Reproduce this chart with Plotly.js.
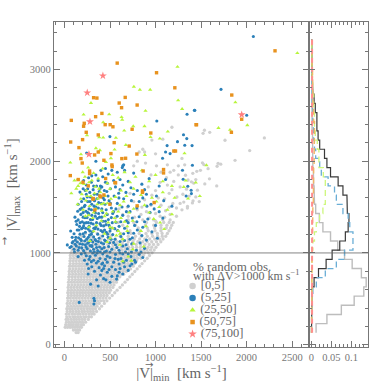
<!DOCTYPE html>
<html><head><meta charset="utf-8">
<script src="https://cdn.plot.ly/plotly-3.0.1.min.js"></script>
<style>html,body{margin:0;padding:0;background:#fff}</style></head>
<body><div id="c" style="width:389px;height:389px"></div>
<script>
const grayRowY=[132,160,190,218,246,276,304,334,362,392,420,450,478,508,536,566,594,624,652,682,710,740,768,798,826,856,884,914,942,972,1002,1032,1062,1092,1122,1152,1182,1212,1242,1272,1302,1332,1360];
const grayRowX=[
[128,150],
[98,122,146,166],
[8,34,62,88,114,140,164,186],
[14,46,70,97,128,152,184,208],
[22,54,84,112,142,170,198,232],
[18,40,74,104,132,163,194,222,262],
[26,58,92,120,150,178,212,240,272,296],
[20,48,82,110,144,172,204,234,268,298,326],
[30,64,94,128,158,192,220,254,286,316,352],
[26,56,86,118,150,182,212,246,276,308,340,384],
[36,70,102,134,166,196,230,260,294,326,358,408],
[30,60,94,124,158,188,222,252,286,318,350,382,438],
[38,72,106,136,170,202,234,268,300,332,364,398,430,466],
[34,64,98,130,162,194,226,258,292,324,356,388,422,456,496],
[42,76,110,142,174,206,240,272,304,336,370,402,434,468,524],
[36,68,100,134,166,198,230,264,296,328,360,394,426,458,492,552],
[44,78,112,146,178,210,244,276,308,342,374,406,438,472,506,578],
[40,72,104,138,170,204,236,268,300,334,366,398,432,464,498,532,610],
[46,82,116,150,182,214,248,280,314,346,378,410,444,476,510,544,636],
[44,76,108,142,174,208,240,272,306,338,370,404,436,468,502,536,570,665],
[50,86,120,154,186,218,252,284,318,350,382,414,448,480,514,548,582,692],
[48,80,112,146,178,212,244,276,310,342,374,408,440,472,506,540,574,608,718],
[54,90,124,158,190,222,256,288,322,354,386,418,452,484,518,552,586,620,650,745],
[52,84,116,150,182,216,248,280,314,346,378,412,444,476,510,544,578,612,646,680,772],
[58,94,128,162,194,226,260,292,326,358,390,422,456,488,522,556,590,624,658,692,726,798],
[56,88,120,154,186,220,252,284,318,350,382,416,448,480,514,548,582,616,650,684,718,755,826],
[62,98,132,166,198,230,264,296,330,362,394,426,460,492,526,560,594,628,662,696,730,770,852],
[60,92,124,158,190,224,256,288,322,354,386,420,452,484,518,552,586,620,654,688,722,756,792,880],
[66,102,136,170,202,234,268,300,334,366,398,430,464,496,530,564,598,632,666,700,734,768,802,840,908],
[64,96,128,162,194,228,260,292,326,358,390,424,456,488,522,556,590,624,658,692,726,760,794,830,868,934],
[74,106,140,174,206,240,272,306,340,372,404,436,470,502,536,570,604,638,672,706,740,774,810,846,884,920,962],
[84,120,158,196,238,276,318,354,398,432,474,516,552,596,634,672,712,752,790,832,870,906,945,985],
[96,136,182,226,268,312,356,402,446,488,532,578,622,664,706,748,792,834,876,918,958,1005],
[108,158,210,262,318,370,424,476,530,584,636,690,740,788,836,884,932,978,1028],
[132,190,250,318,386,452,512,576,640,700,752,806,860,908,958,1010,1058],
[160,240,320,402,482,560,632,700,766,826,882,936,990,1042,1082],
[190,290,400,510,612,700,780,846,910,968,1022,1074,1112],
[230,360,490,620,730,820,895,960,1020,1072,1130],
[280,430,580,720,830,920,995,1060,1148],
[340,520,680,810,910,990,1060,1118,1165],
[450,640,780,890,980,1060,1125,1178],
[590,760,900,1010,1090,1150,1195],
[700,860,980,1080,1160]];
const grayUpper=[[1537,2337],[1522,2304],[1595,2315],[1763,2228],[2195,2254],[2034,2116],[1873,2010],[1515,1982],[1530,1963],[1687,1977],[1716,1967],[1676,1945],[1577,1919],[1493,1901],[1453,1890],[1409,1868],[1329,1847],[1592,1808],[1541,1752],[1672,1731],[1442,1800],[1394,1775],[1420,1760],[1357,1795],[1460,1684],[1340,1695],[1442,1611],[1412,1568],[1405,1545],[1351,1506],[1300,1640],[1270,1720],[1235,1610],[1200,1780],[1180,1690],[1150,1650],[1130,1740],[1100,1590],[1270,1540],[1230,1490],[1190,1540],[1290,1470],[1150,1500],[1110,1460],[1060,1520],[1030,1600],[1000,1680],[960,1630],[920,1720],[880,1580],[850,1500],[900,1450],[950,1520],[1000,1430],[1050,1400],[1100,1390],[1160,1420],[1230,1400],[800,1470],[760,1560],[720,1650],[690,1500],[640,1420],[700,1400],[770,1390],[840,1420],[930,1380],[1000,1350],[600,1480],[560,1380],[1310,1555],[1120,1820],[1060,1880],[1010,1950],[950,1850],[880,2100],[820,2100],[800,2000],[760,1950],[890,1980],[1000,2080],[1200,1900],[1130,1960],[1250,1950],[1080,2240],[960,2230],[860,2130],[1180,2370],[1160,1880],[1320,1960],[1290,2030],[1370,1620],[1480,1560],[1250,1850],[1350,1490],[1050,1770]];
const bluePts=[[162,461],[323,505],[323,443],[330,480],[287,660],[353,707],[455,707],[572,715],[520,745],[260,770],[395,760],[600,790],[640,770],[330,800],[470,790],[700,810],[265,830],[300,850],[380,840],[430,830],[520,850],[560,820],[660,850],[720,860],[250,880],[350,890],[410,880],[470,900],[600,880],[540,900],[220,920],[270,930],[320,920],[390,940],[450,930],[500,950],[620,940],[680,920],[770,920],[780,900],[150,960],[185,990],[240,970],[280,960],[340,975],[420,990],[470,965],[560,985],[640,990],[730,960],[820,985],[110,1010],
[31,1088],[60,1060],[85,1110],[105,1040],[130,1075],[150,1030],[170,1100],[190,1055],[210,1025],[230,1090],[250,1045],[270,1120],[285,1020],[300,1070],[320,1040],[345,1095],[365,1025],[385,1065],[410,1045],[430,1100],[460,1020],[485,1070],[520,1040],[560,1090],[600,1030],[640,1075],[690,1045],[740,1100],[790,1030],[880,1050],
[68,1240],[85,1170],[105,1210],[120,1140],[140,1250],[155,1165],[170,1205],[185,1135],[200,1275],[215,1180],[230,1225],[245,1150],[260,1260],[275,1195],[290,1140],[305,1230],[320,1175],[335,1265],[350,1130],[365,1205],[380,1160],[400,1245],[420,1185],[440,1140],[460,1225],[480,1170],[505,1270],[530,1200],[555,1150],[585,1245],[620,1180],[660,1135],[700,1220],[745,1165],[800,1250],[850,1190],[900,1140],[960,1230],[1020,1160],
[115,1390],[135,1310],[150,1360],[165,1290],[180,1420],[195,1340],[210,1295],[225,1385],[240,1330],[255,1440],[270,1290],[285,1365],[300,1410],[315,1315],[330,1460],[345,1285],[360,1375],[375,1430],[390,1320],[410,1390],[430,1295],[450,1345],[470,1420],[490,1300],[515,1385],[540,1450],[565,1335],[600,1290],[640,1410],[680,1350],[720,1450],[770,1300],[820,1395],[880,1340],[940,1440],[1000,1300],[1080,1380],
[170,1663],[150,1530],[190,1490],[210,1590],[225,1520],[240,1640],[255,1560],[270,1480],[285,1610],[300,1530],[315,1690],[330,1570],[345,1500],[360,1640],[375,1550],[390,1700],[410,1480],[425,1600],[445,1530],[465,1670],[490,1570],[515,1490],[545,1620],[580,1540],[610,1690],[650,1590],[700,1510],[760,1640],[820,1560],[880,1690],[950,1530],[1010,1620],[1090,1570],[1180,1510],
[210,1790],[240,1740],[265,1820],[295,1770],[320,1730],[345,1850],[370,1790],[395,1730],[420,1830],[450,1770],[480,1860],[520,1900],[540,1790],[580,1880],[610,1800],[640,1950],[650,1960],[660,1900],[635,1930],[700,1780],[760,1870],[850,1750],[930,1810],[1040,1730],[1110,1800],[345,2000],[400,1900],[450,1920],
[243,2089],[499,2268],[1077,2032],[1110,2100],[1127,2170],[1160,2083],[1014,2438],[1241,2213],[1431,2554],[1346,2511],[2001,2500],[1307,2289],[1343,2246],[1321,2174],[1401,2170],[1405,1956],[1296,1901],[1303,1804],[1391,1684],[1354,1727],[1394,1647],[1336,1621],[2074,3359],[1719,2783],[1427,2554]];
const blueDense=[[75,1070],[95,1125],[118,1095],[125,1170],[142,1120],[160,1060],[178,1150],[198,1095],[205,1210],[222,1130],[238,1065],[255,1105],[262,1170],[282,1080],[295,1205],[310,1120],[328,1010],[338,1145],[352,1060],[372,1125],[392,1010],[405,1110],[418,1230],[435,1060],[452,1130],[472,1205],[495,1110],[512,1150],[540,1115],[575,1060],[610,1125],[650,1210],[675,1090],[720,1150],[760,1215],[830,1110],[128,1345],[158,1250],[172,1330],[188,1265],[205,1390],[218,1325],[232,1270],[248,1385],[262,1330],[278,1240],[292,1325],[308,1365],[322,1270],[338,1400],[352,1330],[368,1260],[385,1390],[402,1300],[422,1345],[440,1250],[458,1310],[482,1365],[500,1240],[525,1330],[552,1265],[578,1400],[618,1340],[660,1270],[700,1330],[745,1380],[795,1340],[860,1280],[915,1370],[145,1455],[172,1475],[188,1560],[205,1440],[218,1505],[236,1455],[250,1610],[266,1430],[280,1560],[296,1470],[312,1590],[326,1510],[340,1435],[356,1590],[372,1490],[388,1620],[404,1540],[420,1440],[438,1580],[458,1470],[478,1620],[505,1540],[530,1430],[565,1480],[598,1600],[632,1500],[680,1450],[735,1570],[795,1490],[860,1600],[905,1510],[985,1480],[1040,1450],[205,1700],[228,1680],[255,1700],[278,1660],[300,1840],[328,1640],[352,1730],[382,1670],[410,1720],[438,1680],[472,1760],[505,1700],[560,1720],[595,1650],[640,1740],[675,1660],[730,1710],[800,1680],[900,1640],[300,1080],[420,890],[360,1000],[440,1010],[500,1010],[590,930],[670,1010],[735,1010],[840,1010],[430,720],[500,680],[370,640],[610,830],[740,880],[860,950],[295,905],[370,910],[440,860],[490,820],[580,750],[650,900],[700,990],[225,1000],[310,1000],[555,940],[410,810],[610,1000]];
const greenPts=[[1241,3029],[762,2812],[828,2779],[941,2779],[291,2635],[1248,2663],[1292,2569],[890,2548],[210,2507],[491,2510],[627,2481],[634,2452],[425,2423],[879,2381],[755,2381],[656,2333],[1135,2322],[247,2282],[425,2257],[565,2254],[382,2260],[945,2263],[1047,2246],[674,2177],[345,2141],[550,2126],[181,2075],[389,2119],[883,2068],[510,2032],[64,1985],[455,1991],[2557,3178],[1877,2641],[1691,2362],[1818,2341],[2008,2392],[1318,2086],[1559,1956],[1442,1767],[1332,1789],[1486,1619],[1357,1593],[1310,1719],
[200,1880],[260,1930],[145,1800],[110,1790],[175,1760],[225,1830],[270,1770],[320,1870],[370,1810],[420,1920],[470,1760],[530,1850],[590,1820],[660,1880],[720,1770],[780,1830],[850,1900],[930,1780],[1000,1850],[1080,1780],[1180,1730],
[75,1650],[130,1700],[190,1640],[240,1680],[290,1620],[340,1720],[395,1660],[445,1620],[500,1700],[560,1610],[620,1680],[680,1620],[760,1700],[840,1630],[960,1600],[1080,1660],[1210,1600],
[145,1530],[205,1470],[235,1570],[275,1510],[320,1440],[360,1530],[410,1460],[470,1540],[530,1450],[610,1520],[710,1440],[800,1510],[1130,1470],[1180,1420],[1010,1560],
[230,1400],[310,1380],[350,1300],[405,1350],[440,1400],[500,1280],[560,1340],[590,1240],[620,1380],[690,1290],[750,1350],[840,1240],[895,1290],[980,1370],[1050,1330],[1095,1260],[270,1280],[320,1235],[440,1210],[500,1160],[570,1190],[640,1150],[690,1240],[280,1130],[760,1100],[750,1040],[870,1070],[700,960],[640,910],[735,915],[610,1090],[470,1120],
[180,1590],[150,1730],[215,1750],[250,1620],[300,1790],[330,1650],[365,1590],[380,1700],[430,1540],[460,1430],[510,1590],[550,1380],[590,1450],[650,1560],[760,1480],[880,1520],[930,1440],[1040,1500],[265,1410],[345,1480],[405,1530],[480,1330],[530,1270],[610,1210],[660,1340]];
const orangePts=[[579,3069],[1011,2964],[1212,2800],[320,2692],[356,2688],[667,2695],[601,2634],[627,2583],[798,2612],[411,2521],[342,2485],[75,2445],[217,2413],[210,2381],[447,2398],[502,2398],[532,2375],[743,2348],[948,2307],[239,2315],[371,2286],[199,2235],[68,2209],[546,2202],[159,2148],[711,2165],[371,2100],[331,2068],[510,2083],[181,2028],[795,2078],[630,2028],[671,2032],[433,2010],[195,1980],[521,1959],[524,1941],[64,1843],[276,1893],[276,1865],[1088,1909],[1088,1872],[864,1893],[1201,2111],[1219,2111],[1450,2398],[452,1811],[151,1800],[203,1771],[857,1676],[857,1660],[397,1611],[313,1586],[561,1764],[389,1621],[433,1632],[985,1549],[499,1531],[798,1513],[334,1469],[316,1593],[2312,3203],[1837,2721],[1946,2457],[1445,2398],[1833,2315],[261,1731],[554,1767]];
const redPts=[[422,2931],[250,2746],[280,2431],[269,2075],[1946,2507]];
const histEdges=[130,230,330,430,530,630,730,830,930,1030,1130,1230,1330,1430,1530,1630,1730,1830,1930,2030,2130,2230,2330,2430,2530,2630,2730,2830,2930,3030,3130,3230,3330];
const histGray=[.012,.039,.075,.107,.131,.137,.125,.102,.083,.066,.048,.029,.02,.011,.008,.007,.006,.005,.004,.004,.003,.003,.002,.002,.002,.002,.001,.001,.001,.001,.001,.001];
const histBlue=[.0005,.0005,.001,.001,.004,.0125,.035,.0625,.083,.104,.104,.096,.092,.079,.0625,.058,.042,.025,.021,.011,.008,.006,.005,.004,.003,.002,.002,.001,.001,.001,.001,.001];
const histGreen=[.0005,.0005,.0005,.001,.001,.001,.002,.002,.002,.004,.008,.0125,.021,.029,.035,.035,.035,.03,.019,.019,.015,.01,.008,.008,.006,.006,.004,.003,.002,.002,.001,.001];
const histOrange=[.0005,.0005,.0005,.0005,.001,.001,.001,.001,.001,.002,.003,.003,.004,.004,.005,.005,.006,.006,.007,.007,.008,.008,.008,.006,.005,.004,.004,.003,.003,.002,.002,.001];
const histRed=[.002,.002,.002,.002,.002,.002,.002,.002,.002,.002,.002,.002,.002,.002,.002,.002,.002,.002,.002,.002,.002,.002,.002,.002,.002,.002,.002,.002,.002,.002,.002,.002];
const histBlack=[.0005,.0005,.001,.001,.002,.007,.018,.037,.052,.071,.085,.092,.094,.09,.089,.079,.067,.048,.039,.033,.021,.017,.014,.014,.01,.007,.004,.0025,.002,.002,.001,.001];
const legendLabels=["[0,5]","(5,25]","(25,50]","(50,75]","(75,100]"];
const colors={gray:"#d0d0d0",blue:"#2b80b9",green:"#b8f53c",orange:"#e8921e",red:"#ff8080"};
const font="Liberation Serif";
const axc="#777";
const gx=[],gy=[];
grayRowY.forEach((y,i)=>grayRowX[i].forEach(x=>{gx.push(x);gy.push(y);}));
grayUpper.forEach(p=>{gx.push(p[0]);gy.push(p[1]);});
const pts=(arr,color,symbol,size)=>({type:"scatter",mode:"markers",x:arr.map(p=>p[0]),y:arr.map(p=>p[1]),xaxis:"x",yaxis:"y",showlegend:false,hoverinfo:"skip",marker:{color,symbol,size,line:{width:0}}});
const stepHist=(vals,color,dash,width)=>{const xs=[],ys=[];vals.forEach((v,i)=>{xs.push(v,v);ys.push(histEdges[i],histEdges[i+1]);});return {type:"scatter",mode:"lines",x:xs,y:ys,xaxis:"x2",yaxis:"y2",showlegend:false,hoverinfo:"skip",line:{color,dash,width}};};
const key=(i,color,symbol,size)=>({type:"scatter",mode:"markers+text",x:[0],y:[i],xaxis:"x3",yaxis:"y3",showlegend:false,hoverinfo:"skip",text:[" "+legendLabels[i]],textposition:"middle right",textfont:{family:font,size:12.5,color:"#666"},marker:{color,symbol,size,line:{width:0}},cliponaxis:false});
const traces=[
 pts(gx.map((x,i)=>[x,gy[i]]),colors.gray,"circle",3.3),
 pts(bluePts.concat(blueDense),colors.blue,"circle",3.1),
 pts(greenPts,colors.green,"triangle-up",3.8),
 pts(orangePts,colors.orange,"square",3.4),
 pts(redPts,colors.red,"star",6),
 stepHist(histGray,"#bdbdbd","solid",1.4),
 stepHist(histBlack,"#3a3a3a","solid",1.2),
 stepHist(histBlue,"#6aaed6","6px,4px",1.3),
 stepHist(histGreen,"#cdf77c","6px,4px",1.3),
 stepHist(histOrange,"#f2b566","6px,4px",1.4),
 stepHist(histRed,"#ff8f8f","5px,4px",2),
 key(0,colors.gray,"circle",6.5),key(1,colors.blue,"circle",6.5),key(2,colors.green,"triangle-up",5.5),key(3,colors.orange,"square",4.5),key(4,colors.red,"star",6.5)
];
const W=389,H=389,L=54,R=368.4,T=21.5,B=347,S=309.4;
const pw=R-L;
const tf={family:font,size:10.5,color:"#777"};
const nb="\u00a0";
const layout={width:W,height:H,margin:{l:L,r:W-R,t:T,b:H-B},paper_bgcolor:"#fff",plot_bgcolor:"#fff",showlegend:false,
 xaxis:{domain:[0,(S-L)/pw],range:[-115,2686],tickvals:[0,500,1000,1500,2000,2500],ticks:"inside",ticklen:6,tickwidth:1,tickcolor:axc,showgrid:false,zeroline:false,showline:true,linecolor:axc,linewidth:1.2,mirror:"ticks",tickfont:tf,minor:{dtick:100,tick0:0,ticks:"inside",ticklen:3,tickcolor:axc,tickwidth:1,showgrid:false},title:{text:nb+nb+nb+"|V|<sub>min</sub>  [km s<sup>−1</sup>]",font:{family:font,size:15,color:"#666"},standoff:3}},
 yaxis:{domain:[0,1],range:[-25,3517],tickvals:[0,1000,2000,3000],ticks:"inside",ticklen:6,tickwidth:1,tickcolor:axc,showgrid:false,zeroline:false,showline:true,linecolor:axc,linewidth:1.2,mirror:"ticks",tickfont:tf,minor:{dtick:200,tick0:0,ticks:"inside",ticklen:3,tickcolor:axc,tickwidth:1,showgrid:false},title:{text:"|V|<sub>max</sub>  [km s<sup>−1</sup>]"+nb+nb+nb+nb+nb,font:{family:font,size:15,color:"#666"},standoff:8}},
 xaxis2:{domain:[(S-L)/pw,1],anchor:"y2",range:[-.0055,.1415],tickvals:[0,.05,.1],ticktext:["0","0.05","0.1"],ticks:"inside",ticklen:6,tickwidth:1,tickcolor:axc,showgrid:false,zeroline:false,showline:true,linecolor:axc,linewidth:1.2,mirror:"ticks",tickfont:tf,minor:{dtick:.01,tick0:0,ticks:"inside",ticklen:3,tickcolor:axc,tickwidth:1,showgrid:false}},
 yaxis2:{domain:[0,1],anchor:"x2",matches:"y",range:[-25,3517],tickvals:[0,1000,2000,3000],showticklabels:false,ticks:"inside",ticklen:6,tickwidth:1,tickcolor:axc,showgrid:false,zeroline:false,showline:true,linecolor:axc,linewidth:1.2,mirror:"ticks",minor:{dtick:200,tick0:0,ticks:"inside",ticklen:3,tickcolor:axc,tickwidth:1,showgrid:false}},
 xaxis3:{domain:[(188-L)/pw,(238-L)/pw],anchor:"y3",range:[-0.95,9.05],visible:false,fixedrange:true},
 yaxis3:{domain:[(B-340)/(B-T),(B-280)/(B-T)],anchor:"x3",range:[4.5,-0.5],visible:false,fixedrange:true},
 shapes:[{type:"line",xref:"paper",yref:"y",x0:0,x1:1,y0:1000,y1:1000,line:{color:"#666",width:0.8},layer:"above"}],
 annotations:[
  {xref:"paper",yref:"paper",x:(191.5-L)/pw,y:(B-266)/(B-T),xanchor:"left",yanchor:"middle",showarrow:false,align:"left",text:"% random obs.",font:{family:font,size:13,color:"#666"}},
  {xref:"paper",yref:"paper",x:(191.5-L)/pw,y:(B-275.5)/(B-T),xanchor:"left",yanchor:"middle",showarrow:false,align:"left",text:"with ΔV>1000 km s<sup>−1</sup>",font:{family:font,size:12,color:"#666"}},
  {xref:"paper",yref:"paper",x:(149-L)/pw,y:(B-365)/(B-T),xanchor:"center",yanchor:"middle",showarrow:false,text:"→",font:{family:"DejaVu Sans",size:10,color:"#666"}},
  {xref:"paper",yref:"paper",x:(4-L)/pw,y:(B-241)/(B-T),xanchor:"center",yanchor:"middle",showarrow:false,textangle:-90,text:"→",font:{family:"DejaVu Sans",size:10,color:"#666"}}
 ]};
Plotly.newPlot("c",traces,layout,{displayModeBar:false,staticPlot:true});
</script></body></html>
